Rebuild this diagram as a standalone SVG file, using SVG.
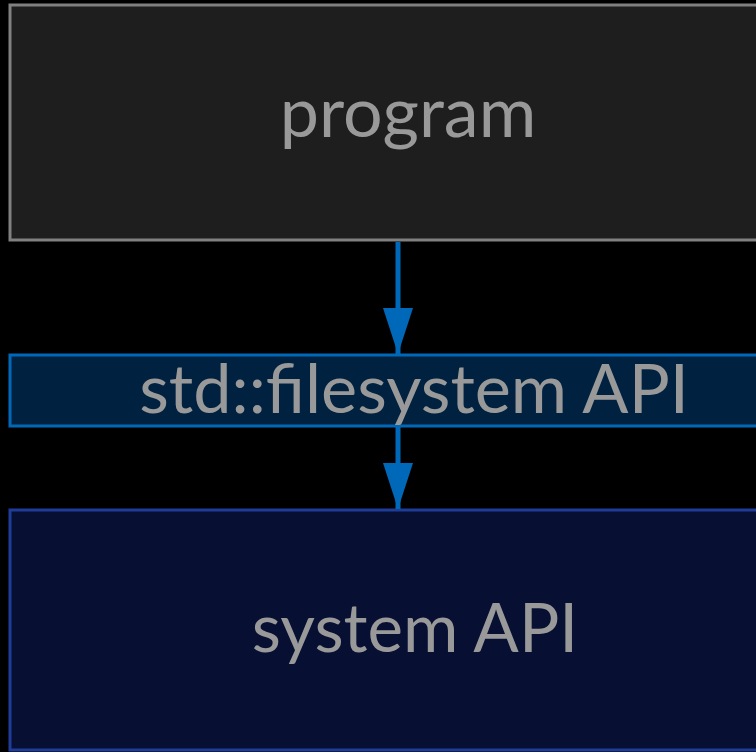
<svg xmlns="http://www.w3.org/2000/svg" width="756" height="752" viewBox="0 0 756 752">
  <defs>
    <marker id="head" viewBox="0 0 46 30" refX="46" refY="15" markerWidth="46" markerHeight="30" markerUnits="userSpaceOnUse" orient="auto">
      <path d="M0,0 L46,15 L0,30 Z" fill="#0068b8"/>
    </marker>
    <style>
      .label { font-family: Lato, "Open Sans", sans-serif; font-size: 69px; fill: #999999; text-anchor: middle; }
      .edge { stroke: #0068b8; stroke-width: 5; fill: none; }
    </style>
  </defs>
  <rect x="0" y="0" width="756" height="752" fill="#000000"/>
  <g id="program">
    <rect x="10" y="5" width="810" height="235" fill="#1e1e1e" stroke="#808080" stroke-width="3"/>
    <text class="label" x="408" y="137" style="font-size:70px">program</text>
  </g>
  <g id="filesystem-api">
    <rect x="10" y="355" width="810" height="71" fill="#002240" stroke="#0068b8" stroke-width="3"/>
    <text class="label" x="414" y="413" style="font-size:68.4px">std::filesystem API</text>
  </g>
  <g id="system-api">
    <rect x="10" y="510" width="810" height="240" fill="#070f33" stroke="#1f3c99" stroke-width="3"/>
    <text class="label" x="415" y="652" style="font-size:67.3px">system API</text>
  </g>
  <g id="connectors">
    <line class="edge" x1="398" y1="242" x2="398" y2="354" marker-end="url(#head)"/>
    <line class="edge" x1="398" y1="427" x2="398" y2="509" marker-end="url(#head)"/>
  </g>
</svg>
